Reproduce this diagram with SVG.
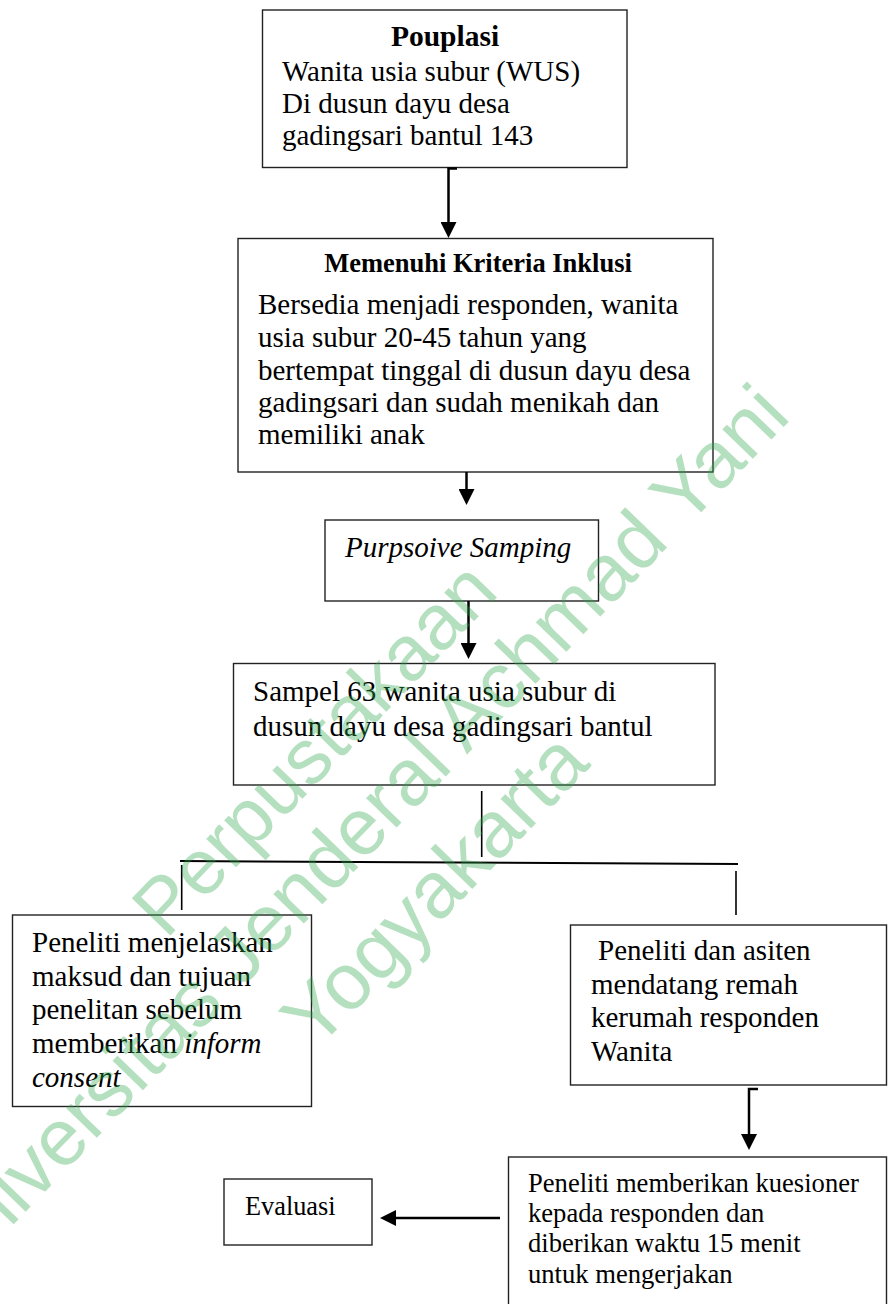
<svg xmlns="http://www.w3.org/2000/svg" width="889" height="1304" viewBox="0 0 889 1304">
<defs>
<style>
.box{fill:none;stroke:#222;stroke-width:1.4}
.t{font-family:"Liberation Serif","Times New Roman",serif;font-size:29px;fill:#000}
.ts{font-family:"Liberation Serif","Times New Roman",serif;font-size:26.6px;fill:#000}
.b{font-weight:bold}
.i{font-style:italic}
.con{fill:none;stroke:#000;stroke-width:2.5}
.thin{fill:none;stroke:#000;stroke-width:1.6}
.wm{font-family:"Liberation Sans",Arial,sans-serif;font-size:80px;fill:#2ea84a;opacity:0.35}
</style>
<marker id="ah" markerWidth="16" markerHeight="16" refX="4" refY="8" orient="auto" markerUnits="userSpaceOnUse">
<path d="M0,0 L16,8 L0,16 Z" fill="#000"/>
</marker>
</defs>
<rect x="0" y="0" width="889" height="1304" fill="#fff"/>

<g id="populasi">
<rect class="box" x="262.5" y="10" width="364.5" height="157.5"/>
<text class="t b" x="445" y="46" text-anchor="middle" style="font-size:29.5px">Pouplasi</text>
<text class="t" x="282" y="81">Wanita usia subur (WUS)</text>
<text class="t" x="282" y="113">Di dusun dayu desa</text>
<text class="t" x="282" y="145">gadingsari bantul 143</text>
</g>

<g id="kriteria">
<rect class="box" x="238" y="238.5" width="475" height="233.5"/>
<text class="t b" x="478" y="272" text-anchor="middle" style="font-size:26.5px">Memenuhi Kriteria Inklusi</text>
<text class="t" x="258" y="314">Bersedia menjadi responden, wanita</text>
<text class="t" x="258" y="347">usia subur 20-45 tahun yang</text>
<text class="t" x="258" y="380">bertempat tinggal di dusun dayu desa</text>
<text class="t" x="258" y="412">gadingsari dan sudah menikah dan</text>
<text class="t" x="258" y="444">memiliki anak</text>
</g>

<g id="purposive">
<rect class="box" x="325" y="520" width="273.5" height="81"/>
<text class="t i" x="345" y="557">Purpsoive Samping</text>
</g>

<g id="sampel">
<rect class="box" x="233.5" y="663.5" width="481.5" height="121.5"/>
<text class="t" x="253" y="701">Sampel 63 wanita usia subur di</text>
<text class="t" x="253" y="736">dusun dayu desa gadingsari bantul</text>
</g>

<g id="menjelaskan">
<rect class="box" x="12.5" y="915" width="299" height="191.5"/>
<text class="t" x="32" y="952">Peneliti menjelaskan</text>
<text class="t" x="32" y="986">maksud dan tujuan</text>
<text class="t" x="32" y="1019">penelitan sebelum</text>
<text class="t" x="32" y="1053">memberikan <tspan class="i">inform</tspan></text>
<text class="t i" x="32" y="1087">consent</text>
</g>

<g id="mendatang">
<rect class="box" x="570.5" y="925" width="316" height="160"/>
<text class="t" x="598" y="960">Peneliti dan asiten</text>
<text class="t" x="591" y="994">mendatang remah</text>
<text class="t" x="591" y="1027">kerumah responden</text>
<text class="t" x="591" y="1061">Wanita</text>
</g>

<g id="kuesioner">
<rect class="box" x="508.5" y="1157" width="378" height="170"/>
<text class="ts" x="528" y="1192">Peneliti memberikan kuesioner</text>
<text class="ts" x="528" y="1222">kepada responden dan</text>
<text class="ts" x="528" y="1252">diberikan waktu 15 menit</text>
<text class="ts" x="528" y="1283">untuk mengerjakan</text>
</g>

<g id="evaluasi">
<rect class="box" x="224" y="1179" width="148" height="66"/>
<text class="ts" x="245" y="1215" style="font-size:26.3px">Evaluasi</text>
</g>

<g id="connectors">
<path class="con" d="M457,168.5 H448.5 V226" marker-end="url(#ah)"/>
<path class="con" d="M466.5,472 V493" marker-end="url(#ah)"/>
<path class="con" d="M468.5,601 V647" marker-end="url(#ah)"/>
<path class="thin" d="M481.7,791 V857"/>
<path class="con" style="stroke-width:2" d="M180,861 L738,864"/>
<path class="thin" d="M181.7,865 V910"/>
<path class="thin" d="M736,871 V915"/>
<path class="con" d="M758,1089 H749 V1138" marker-end="url(#ah)"/>
<path class="con" d="M500,1218 H392" marker-end="url(#ah)"/>
</g>

<g id="watermark">
<text class="wm" transform="translate(166,940) rotate(-46)" style="font-size:78px">Perpustakaan</text>
<text class="wm" transform="translate(-49,1289) rotate(-46)">Universitas Jenderal Achmad Yani</text>
<text class="wm" transform="translate(316,1051) rotate(-46)">Yogyakarta</text>
</g>
</svg>
